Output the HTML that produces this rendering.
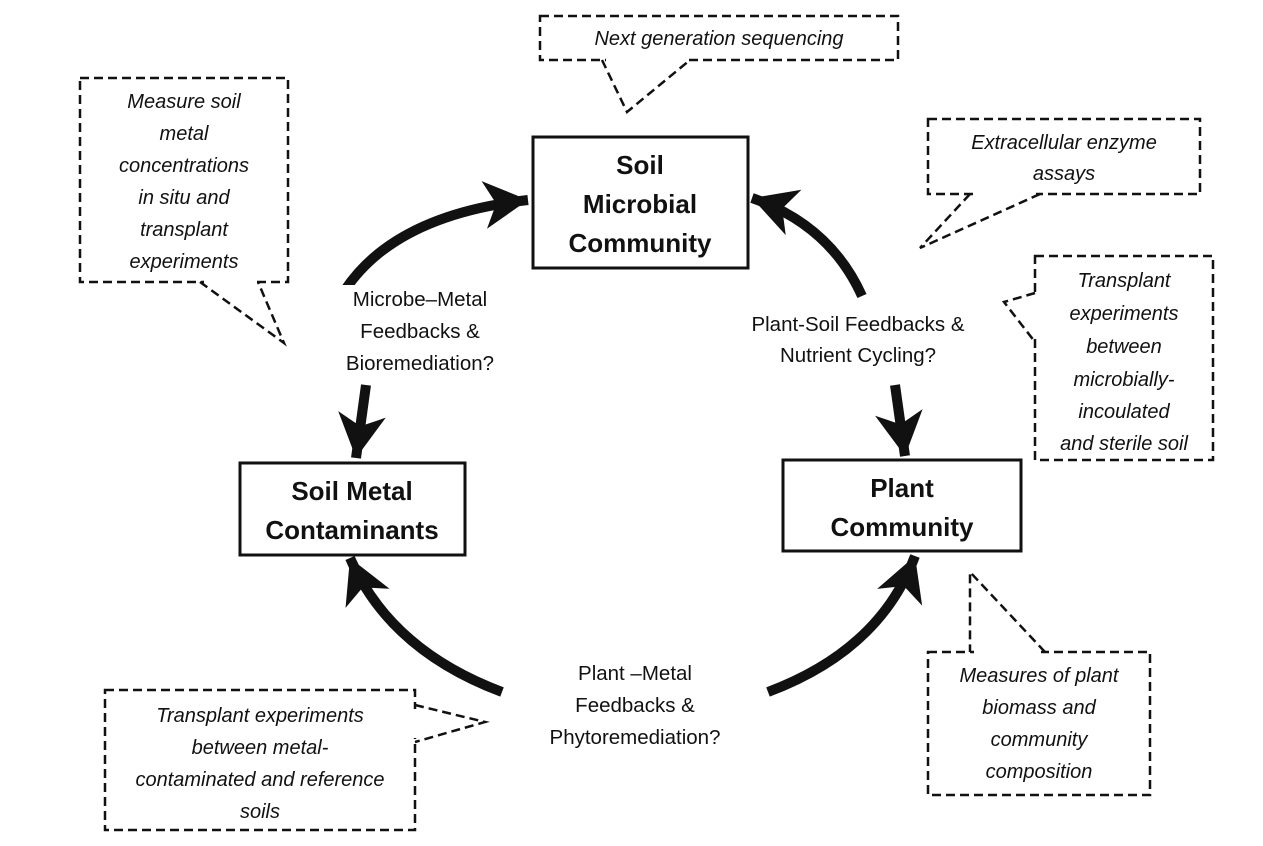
<!DOCTYPE html>
<html><head><meta charset="utf-8"><style>
html,body{margin:0;padding:0;background:#fff;}
svg{display:block;}
.b{font-family:"Liberation Sans",sans-serif;font-weight:bold;font-size:26px;fill:#111;text-anchor:middle;}
.l{font-family:"Liberation Sans",sans-serif;font-size:20.5px;fill:#111;text-anchor:middle;}
.i{font-family:"Liberation Sans",sans-serif;font-style:italic;font-size:20px;fill:#111;text-anchor:middle;}
.d{fill:#fff;stroke:#111;stroke-width:2.5;stroke-dasharray:9,5;}
.t{fill:none;stroke:#111;stroke-width:2.5;stroke-dasharray:9,5;}
.w{stroke:#fff;stroke-width:5;}
.a{fill:none;stroke:#111;stroke-width:10;}
</style></head><body>
<svg width="1263" height="846" viewBox="0 0 1263 846" xmlns="http://www.w3.org/2000/svg">
<defs>
<marker id="h" markerUnits="userSpaceOnUse" markerWidth="60" markerHeight="60" refX="50" refY="30" orient="auto" viewBox="0 0 60 60">
<path d="M50 30 L6 6 L18 30 L6 54 Z" fill="#111"/>
</marker>
</defs>
<rect width="1263" height="846" fill="#fff"/>

<rect x="533" y="137" width="215" height="131" fill="#fff" stroke="#111" stroke-width="3"/>
<text class="b" x="640" y="174">Soil</text>
<text class="b" x="640" y="213">Microbial</text>
<text class="b" x="640" y="252">Community</text>

<rect x="240" y="463" width="225" height="92" fill="#fff" stroke="#111" stroke-width="3"/>
<text class="b" x="352" y="500">Soil Metal</text>
<text class="b" x="352" y="539">Contaminants</text>

<rect x="783" y="460" width="238" height="91" fill="#fff" stroke="#111" stroke-width="3"/>
<text class="b" x="902" y="497">Plant</text>
<text class="b" x="902" y="536">Community</text>

<path class="a" d="M345 290 Q395 215 528 200" marker-end="url(#h)"/>
<path class="a" d="M366 385 L356 458" marker-end="url(#h)"/>
<path class="a" d="M862 296 Q830 225 752 198" marker-end="url(#h)"/>
<path class="a" d="M895 385 L905 456" marker-end="url(#h)"/>
<path class="a" d="M502 692 Q390 650 350 558" marker-end="url(#h)"/>
<path class="a" d="M768 692 Q880 650 915 556" marker-end="url(#h)"/>

<rect x="325" y="285" width="190" height="95" fill="#fff"/>
<text class="l" x="420" y="306">Microbe–Metal</text>
<text class="l" x="420" y="338">Feedbacks &amp;</text>
<text class="l" x="420" y="370">Bioremediation?</text>
<rect x="745" y="306" width="225" height="65" fill="#fff"/>
<text class="l" x="858" y="331">Plant-Soil Feedbacks &amp;</text>
<text class="l" x="858" y="362">Nutrient Cycling?</text>
<text class="l" x="635" y="680">Plant –Metal</text>
<text class="l" x="635" y="712">Feedbacks &amp;</text>
<text class="l" x="635" y="744">Phytoremediation?</text>

<rect class="d" x="540" y="16" width="358" height="44"/>
<line class="w" x1="606" y1="60" x2="686" y2="60"/>
<path class="t" d="M602 60 L627 112 L690 60"/>
<text class="i" x="719" y="45">Next generation sequencing</text>

<rect class="d" x="80" y="78" width="208" height="204"/>
<line class="w" x1="204" y1="282" x2="255" y2="282"/>
<path class="t" d="M200 282 L284 343 L258 282"/>
<text class="i" x="184" y="108">Measure soil</text>
<text class="i" x="184" y="140">metal</text>
<text class="i" x="184" y="172">concentrations</text>
<text class="i" x="184" y="204">in situ and</text>
<text class="i" x="184" y="236">transplant</text>
<text class="i" x="184" y="268">experiments</text>

<rect class="d" x="928" y="119" width="272" height="75"/>
<line class="w" x1="974" y1="194" x2="1036" y2="194"/>
<path class="t" d="M970 194 L920 248 L1040 194"/>
<text class="i" x="1064" y="149">Extracellular enzyme</text>
<text class="i" x="1064" y="180">assays</text>

<rect class="d" x="1035" y="256" width="178" height="204"/>
<line class="w" x1="1035" y1="297" x2="1035" y2="338"/>
<path class="t" d="M1035 293 L1004 302 L1035 342"/>
<text class="i" x="1124" y="287">Transplant</text>
<text class="i" x="1124" y="320">experiments</text>
<text class="i" x="1124" y="353">between</text>
<text class="i" x="1124" y="386">microbially-</text>
<text class="i" x="1124" y="418">incoulated</text>
<text class="i" x="1124" y="450">and sterile soil</text>

<rect class="d" x="105" y="690" width="310" height="140"/>
<line class="w" x1="415" y1="709" x2="415" y2="738"/>
<path class="t" d="M415 705 L485 722 L415 742"/>
<text class="i" x="260" y="722">Transplant experiments</text>
<text class="i" x="260" y="754">between metal-</text>
<text class="i" x="260" y="786">contaminated and reference</text>
<text class="i" x="260" y="818">soils</text>

<rect class="d" x="928" y="652" width="222" height="143"/>
<line class="w" x1="974" y1="652" x2="1041" y2="652"/>
<path class="t" d="M1045 652 L970 572 L970 652"/>
<text class="i" x="1039" y="682">Measures of plant</text>
<text class="i" x="1039" y="714">biomass  and</text>
<text class="i" x="1039" y="746">community</text>
<text class="i" x="1039" y="778">composition</text>
</svg>
</body></html>
